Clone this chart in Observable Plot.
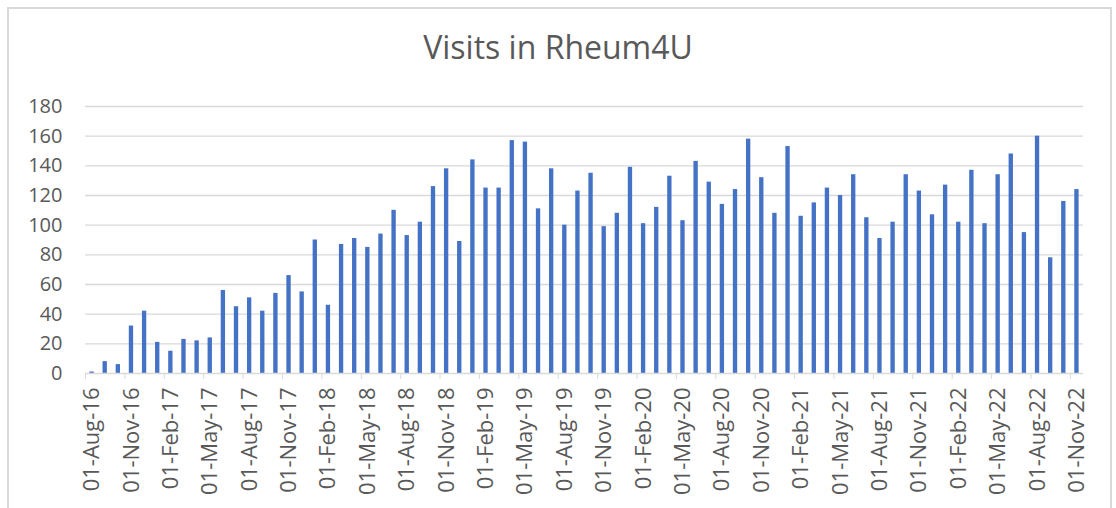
<!DOCTYPE html>
<html>
<head>
<meta charset="utf-8">
<script src="https://cdn.jsdelivr.net/npm/d3@7"></script>
<script src="https://cdn.jsdelivr.net/npm/@observablehq/plot@0.6"></script>
<style>
  html, body { margin: 0; padding: 0; background: #fff; overflow: hidden; }
  #wrap { position: relative; width: 1116px; height: 508px; overflow: hidden; font-family: "Open Sans", sans-serif; }
  #frame { position: absolute; left: 7px; top: 7px; width: 1105px; height: 600px; box-sizing: border-box; border: 2px solid #d9d9d9; }
  #title { position: absolute; left: 0; top: 27px; width: 1116px; text-align: center; font-size: 32px; line-height: 40px; color: #595959; }
  #chart { position: absolute; left: 0; top: 80px; }
</style>
</head>
<body>
<div id="wrap">
  <div id="frame"></div>
  <div id="title">Visits in Rheum4U</div>
  <div id="chart"></div>
</div>
<script>
const months = [
  "2016-08","2016-09","2016-10","2016-11","2016-12",
  "2017-01","2017-02","2017-03","2017-04","2017-05","2017-06","2017-07","2017-08","2017-09","2017-10","2017-11","2017-12",
  "2018-01","2018-02","2018-03","2018-04","2018-05","2018-06","2018-07","2018-08","2018-09","2018-10","2018-11","2018-12",
  "2019-01","2019-02","2019-03","2019-04","2019-05","2019-06","2019-07","2019-08","2019-09","2019-10","2019-11","2019-12",
  "2020-01","2020-02","2020-03","2020-04","2020-05","2020-06","2020-07","2020-08","2020-09","2020-10","2020-11","2020-12",
  "2021-01","2021-02","2021-03","2021-04","2021-05","2021-06","2021-07","2021-08","2021-09","2021-10","2021-11","2021-12",
  "2022-01","2022-02","2022-03","2022-04","2022-05","2022-06","2022-07","2022-08","2022-09","2022-10","2022-11"
];
const visits = [
  1, 8, 6, 32, 42,
  21, 15, 23, 22, 24, 56, 45, 51, 42, 54, 66, 55,
  90, 46, 87, 91, 85, 94, 110, 93, 102, 126, 138, 89,
  144, 125, 125, 157, 156, 111, 138, 100, 123, 135, 99, 108,
  139, 101, 112, 133, 103, 143, 129, 114, 124, 158, 132, 108,
  153, 106, 115, 125, 120, 134, 105, 91, 102, 134, 123, 107,
  127, 102, 137, 101, 134, 148, 95, 160, 78, 116, 124
];
const tickLabels = [
  "01-Aug-16","01-Nov-16","01-Feb-17","01-May-17","01-Aug-17","01-Nov-17",
  "01-Feb-18","01-May-18","01-Aug-18","01-Nov-18","01-Feb-19","01-May-19",
  "01-Aug-19","01-Nov-19","01-Feb-20","01-May-20","01-Aug-20","01-Nov-20",
  "01-Feb-21","01-May-21","01-Aug-21","01-Nov-21","01-Feb-22","01-May-22",
  "01-Aug-22","01-Nov-22"
];
const yTicks = [0, 20, 40, 60, 80, 100, 120, 140, 160, 180];

const monthNames = ["Jan","Feb","Mar","Apr","May","Jun","Jul","Aug","Sep","Oct","Nov","Dec"];
const data = months.map((m, i) => ({month: m, i, value: visits[i]}));
const tickIdx = tickLabels.map(l => months.indexOf(
  "20" + l.slice(-2) + "-" + String(monthNames.indexOf(l.slice(3, 6)) + 1).padStart(2, "0")
));
const labelOf = new Map(tickIdx.map((t, k) => [t + 0.5, tickLabels[k]]));

const chart = Plot.plot({
  width: 1116,
  height: 428,
  marginLeft: 85,
  marginRight: 33,
  marginTop: 26,
  marginBottom: 135,
  style: {fontFamily: "Open Sans, sans-serif", color: "#595959", background: "transparent"},
  x: {domain: [0, months.length]},
  y: {domain: [0, 180]},
  marks: [
    Plot.gridY(yTicks.filter(d => d > 0), {stroke: "#d9d9d9", strokeOpacity: 1, strokeWidth: 1.3}),
    Plot.axisY(yTicks, {tickSize: 0, tickPadding: 23, fontSize: 20, fill: "#595959", label: null}),
    Plot.rectY(data, {x1: "i", x2: d => d.i + 1, y: "value", fill: "#4472C4", insetLeft: 4.4, insetRight: 4.4}),
    Plot.ruleY([0], {stroke: "#d9d9d9", strokeWidth: 1.3}),
    Plot.axisX(tickIdx, {tickSize: 6, stroke: "#d9d9d9", strokeOpacity: 1, tickFormat: () => "", label: null}),
    Plot.axisX(tickIdx.map(t => t + 0.5), {tickSize: 0, tickPadding: 14, tickRotate: -90, fontSize: 22, fill: "#595959", tickFormat: d => labelOf.get(d), label: null})
  ]
});
document.getElementById("chart").appendChild(chart);
</script>
</body>
</html>
